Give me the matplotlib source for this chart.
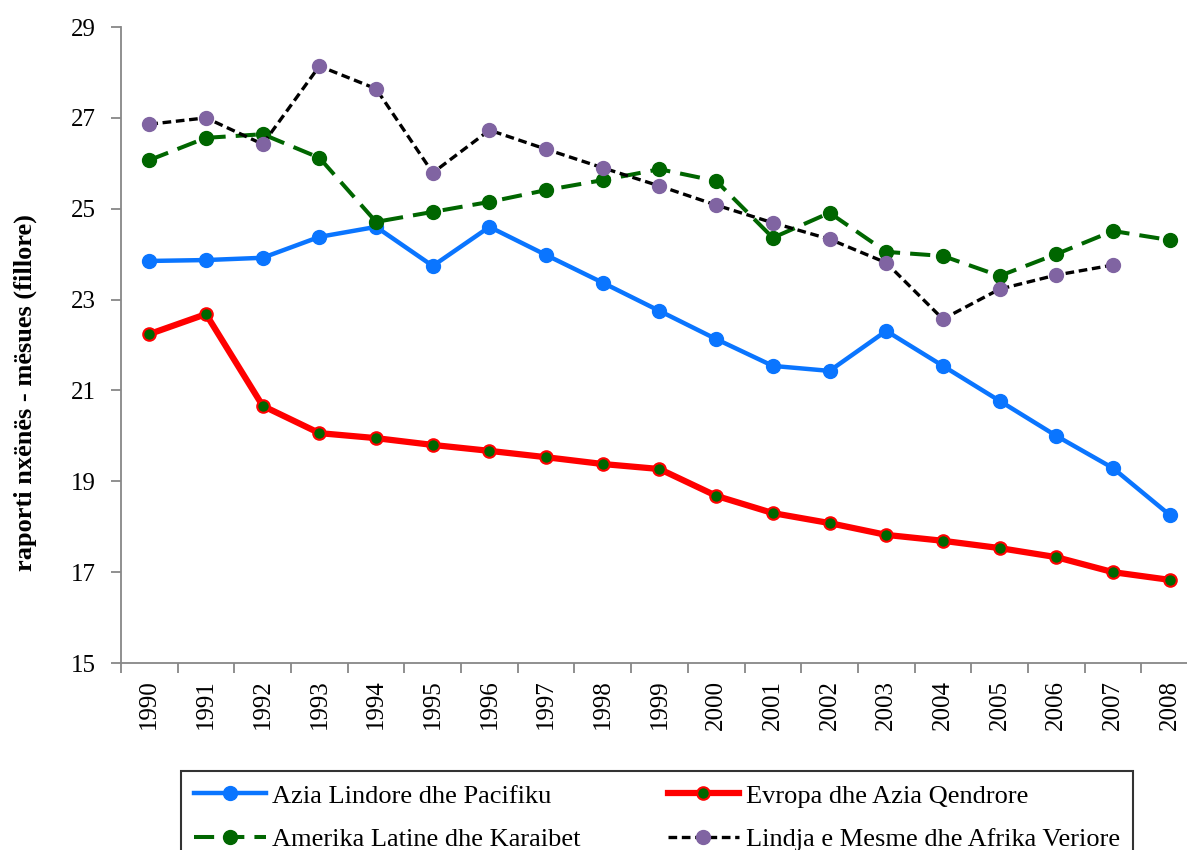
"""Pupil-teacher ratio (primary) by region, 1990-2008."""
import matplotlib
matplotlib.use("Agg")
import matplotlib.pyplot as plt
import numpy as np

plt.rcParams["font.family"] = ["Liberation Serif", "DejaVu Serif"]

years = [str(y) for y in range(1990, 2009)]

azia_lindore = [23.85, 23.87, 23.92, 24.38, 24.60, 23.74, 24.60, 23.98, 23.37, 22.75,
                22.13, 21.54, 21.43, 22.31, 21.54, 20.77, 20.00, 19.29, 18.26]
evropa = [22.24, 22.68, 20.66, 20.06, 19.95, 19.80, 19.67, 19.53, 19.38, 19.27,
          18.68, 18.30, 18.08, 17.82, 17.69, 17.53, 17.33, 17.00, 16.83]
amerika_latine = [26.07, 26.56, 26.64, 26.12, 24.71, 24.93, 25.15, 25.41, 25.63, 25.87,
                  25.61, 24.36, 24.91, 24.05, 23.96, 23.52, 24.00, 24.51, 24.31]
lindja_mesme = [26.86, 27.00, 26.42, 28.14, 27.64, 25.79, 26.73, 26.31, 25.90, 25.50,
                25.08, 24.69, 24.33, 23.81, 22.57, 23.23, 23.54, 23.76, np.nan]

W, H = 1187, 850
fig = plt.figure(figsize=(W / 100, H / 100), dpi=100)
ax = fig.add_axes([121 / W, 1 - 663 / H, (1198 - 121) / W, (663 - 27) / H])

x = np.arange(len(years))
ax.plot(x, azia_lindore, color="#0A75FF", linewidth=3.2, marker="o", markersize=10,
        label="Azia Lindore dhe Pacifiku")
ax.plot(x, evropa, color="#FF0000", linewidth=4.5, marker="o", markersize=9,
        markerfacecolor="#006600", markeredgecolor="#FF0000", markeredgewidth=1.5,
        label="Evropa dhe Azia Qendrore")
ax.plot(x, amerika_latine, color="#006600", linewidth=2.9, dashes=(5, 2.5), marker="o",
        markersize=10, label="Amerika Latine dhe Karaibet")
ax.plot(x, lindja_mesme, color="black", linewidth=2.4, dashes=(2.6, 1.4), marker="o",
        markersize=10, markerfacecolor="#8064A2", markeredgecolor="#8064A2",
        label="Lindja e Mesme dhe Afrika Veriore")

ax.set_xlim(-0.5, len(years) - 0.5)
ax.set_ylim(15, 29)
ax.set_yticks(range(15, 30, 2))
ax.set_xticks(x)
ax.set_xticklabels(years, rotation=90)
ax.set_xticks(np.arange(-0.5, len(years), 1.0), minor=True)
ax.tick_params(axis="x", which="major", length=0, pad=12, labelsize=18)
ax.tick_params(axis="x", which="minor", length=7, width=1.3, color="#878787")
ax.tick_params(axis="y", length=7, width=1.3, color="#878787", labelsize=18, pad=11)

for side in ("top", "right"):
    ax.spines[side].set_visible(False)
for side in ("left", "bottom"):
    ax.spines[side].set_color("#878787")
    ax.spines[side].set_linewidth(1.3)

fig.text(25 / W, 1 - 393 / H, "raporti nxënës - mësues (fillore)", rotation=90,
         ha="center", va="center", fontsize=19, fontweight="bold")

handles, labels = ax.get_legend_handles_labels()
order = [0, 2, 1, 3]
leg = fig.legend([handles[i] for i in order], [labels[i] for i in order],
                 loc="upper center", bbox_to_anchor=(657 / W, 1 - 771 / H), ncol=2,
                 fontsize=19, frameon=True, fancybox=False, numpoints=1,
                 handlelength=2.7, handletextpad=0.25, columnspacing=3.3,
                 labelspacing=0.75, borderpad=0.5, borderaxespad=0)
leg.get_frame().set_edgecolor("black")
leg.get_frame().set_linewidth(1.5)

fig.savefig("out.png", dpi=100)
